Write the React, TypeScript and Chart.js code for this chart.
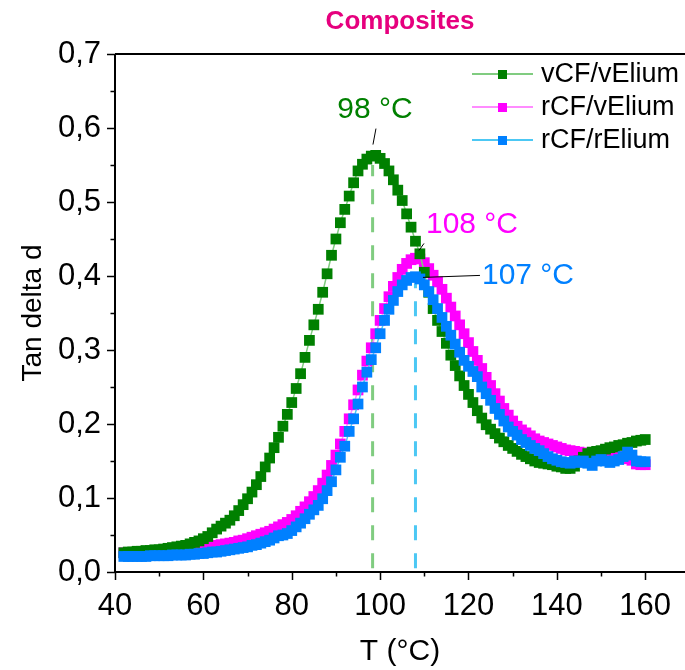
import React, { useEffect, useRef } from 'react';
import { Chart, registerables } from 'chart.js';

Chart.register(...registerables);

const FONT = "'Liberation Sans', Arial, Helvetica, sans-serif";

// Temperature (°C)
const temperatures = [
  42, 43, 44, 45, 46, 47, 48, 49, 50, 51,
  52, 53, 54, 55, 56, 57, 58, 59, 60, 61,
  62, 63, 64, 65, 66, 67, 68, 69, 70, 71,
  72, 73, 74, 75, 76, 77, 78, 79, 80, 81,
  82, 83, 84, 85, 86, 87, 88, 89, 90, 91,
  92, 93, 94, 95, 96, 97, 98, 99, 100, 101,
  102, 103, 104, 105, 106, 107, 108, 109, 110, 111,
  112, 113, 114, 115, 116, 117, 118, 119, 120, 121,
  122, 123, 124, 125, 126, 127, 128, 129, 130, 131,
  132, 133, 134, 135, 136, 137, 138, 139, 140, 141,
  142, 143, 144, 145, 146, 147, 148, 149, 150, 151,
  152, 153, 154, 155, 156, 157, 158, 159, 160,
];

// Tan delta, vCF/vElium
const vCFvElium = [
  0.026, 0.027, 0.027, 0.028, 0.028, 0.029, 0.029, 0.030, 0.030, 0.031,
  0.032, 0.033, 0.034, 0.035, 0.036, 0.038, 0.040, 0.042, 0.045, 0.048,
  0.053, 0.058, 0.062, 0.066, 0.070, 0.076, 0.083, 0.091, 0.099, 0.108,
  0.118, 0.129, 0.142, 0.154, 0.168, 0.182, 0.197, 0.213, 0.229, 0.248,
  0.268, 0.290, 0.313, 0.334, 0.355, 0.378, 0.403, 0.428, 0.450, 0.472,
  0.490, 0.508, 0.526, 0.542, 0.551, 0.558, 0.562, 0.563, 0.559, 0.552,
  0.542, 0.530, 0.516, 0.502, 0.484, 0.466, 0.447, 0.430, 0.405, 0.378,
  0.356, 0.340, 0.325, 0.309, 0.293, 0.279, 0.265, 0.252, 0.240, 0.229,
  0.218, 0.208, 0.199, 0.193, 0.187, 0.181, 0.176, 0.171, 0.167, 0.163,
  0.159, 0.156, 0.153, 0.150, 0.148, 0.147, 0.146, 0.145, 0.143, 0.142,
  0.140, 0.140, 0.143, 0.150, 0.155, 0.160, 0.162, 0.163, 0.164, 0.166,
  0.168, 0.169, 0.171, 0.172, 0.174, 0.175, 0.177, 0.178, 0.179,
];

// Tan delta, rCF/vElium
const rCFvElium = [
  0.026, 0.026, 0.026, 0.026, 0.027, 0.027, 0.027, 0.027, 0.028, 0.028,
  0.028, 0.029, 0.029, 0.030, 0.030, 0.031, 0.031, 0.032, 0.033, 0.034,
  0.035, 0.036, 0.037, 0.038, 0.039, 0.040, 0.042, 0.043, 0.045, 0.047,
  0.049, 0.051, 0.053, 0.055, 0.058, 0.061, 0.064, 0.067, 0.071, 0.076,
  0.082, 0.088, 0.095, 0.102, 0.110, 0.120, 0.131, 0.144, 0.158, 0.173,
  0.190, 0.207, 0.226, 0.246, 0.266, 0.285, 0.303, 0.322, 0.340, 0.356,
  0.372, 0.386, 0.398, 0.409, 0.417, 0.422, 0.424, 0.423, 0.418, 0.410,
  0.401, 0.392, 0.382, 0.370, 0.358, 0.346, 0.334, 0.322, 0.310, 0.298,
  0.286, 0.275, 0.263, 0.252, 0.241, 0.231, 0.221, 0.212, 0.204, 0.197,
  0.192, 0.188, 0.184, 0.180, 0.177, 0.175, 0.173, 0.171, 0.169, 0.167,
  0.165, 0.164, 0.163, 0.162, 0.161, 0.160, 0.159, 0.158, 0.157, 0.157,
  0.156, 0.156, 0.156, 0.155, 0.153, 0.151, 0.146, 0.145, 0.145,
];

// Tan delta, rCF/rElium
const rCFrElium = [
  0.021, 0.021, 0.021, 0.021, 0.021, 0.021, 0.022, 0.022, 0.022, 0.022,
  0.022, 0.023, 0.023, 0.023, 0.023, 0.024, 0.024, 0.025, 0.025, 0.026,
  0.027, 0.027, 0.028, 0.029, 0.030, 0.031, 0.032, 0.033, 0.034, 0.036,
  0.037, 0.039, 0.041, 0.043, 0.046, 0.049, 0.050, 0.052, 0.056, 0.061,
  0.066, 0.072, 0.078, 0.084, 0.090, 0.099, 0.110, 0.122, 0.138, 0.155,
  0.170, 0.190, 0.207, 0.227, 0.250, 0.270, 0.287, 0.303, 0.322, 0.340,
  0.355, 0.367, 0.379, 0.388, 0.394, 0.398, 0.399, 0.396, 0.388, 0.379,
  0.368, 0.356, 0.344, 0.332, 0.320, 0.308, 0.297, 0.286, 0.278, 0.271,
  0.264, 0.250, 0.241, 0.232, 0.221, 0.213, 0.204, 0.196, 0.190, 0.185,
  0.179, 0.175, 0.171, 0.167, 0.164, 0.160, 0.156, 0.153, 0.151, 0.149,
  0.148, 0.147, 0.150, 0.148, 0.150, 0.147, 0.144, 0.150, 0.152, 0.150,
  0.148, 0.150, 0.152, 0.156, 0.162, 0.158, 0.150, 0.149, 0.149,
];

const seriesNames = ['vCF/vElium', 'rCF/vElium', 'rCF/rElium'];
const markerColors = ['#008000', '#FF00FF', '#0080FF'];
const lineColors = ['#80CC80', '#FF8CFF', '#4CC8F4'];

const xTickValues = [40, 60, 80, 100, 120, 140, 160];
const xMinorValues = [50, 70, 90, 110, 130, 150];
const yTickValues = [0, 0.1, 0.2, 0.3, 0.4, 0.5, 0.6, 0.7];
const yMinorValues = [0.05, 0.15, 0.25, 0.35, 0.45, 0.55, 0.65];

// Peak markers (°C) and their labels
const peakLineTemps = [98.3, 108];
const peakLineTops = [0.55, 0.39];
const peakLabels = ['98 °C', '108 °C', '107 °C'];

const toPoints = (vals: number[]) => vals.map((v, i) => ({ x: temperatures[i], y: v }));

const overlayPlugin = {
  id: 'overlay',
  beforeDatasetsDraw(chart: any) {
    const { ctx, scales } = chart;
    const x = scales.x;
    const y = scales.y;
    ctx.save();
    ctx.lineWidth = 3;
    ctx.setLineDash([15, 13]);
    const dashColors = [lineColors[0], lineColors[2]];
    peakLineTemps.forEach((t, i) => {
      const px = x.getPixelForValue(t);
      ctx.strokeStyle = dashColors[i];
      ctx.beginPath();
      ctx.moveTo(px, y.getPixelForValue(0.005));
      ctx.lineTo(px, y.getPixelForValue(peakLineTops[i]));
      ctx.stroke();
    });
    ctx.restore();
  },
  afterDraw(chart: any) {
    const { ctx, chartArea, scales } = chart;
    const x = scales.x;
    const y = scales.y;
    const { left, right, top, bottom } = chartArea;
    ctx.save();
    ctx.setLineDash([]);

    // frame / axes
    ctx.strokeStyle = '#000';
    ctx.lineWidth = 2;
    ctx.beginPath();
    ctx.moveTo(left, top);
    ctx.lineTo(left, bottom);
    ctx.lineTo(right, bottom);
    ctx.moveTo(left, top);
    ctx.lineTo(right, top);
    ctx.stroke();

    // tick marks
    ctx.lineWidth = 1.5;
    ctx.beginPath();
    xTickValues.forEach((v) => {
      const p = Math.round(x.getPixelForValue(v)) + 0.5;
      ctx.moveTo(p, bottom);
      ctx.lineTo(p, bottom + 8);
    });
    xMinorValues.forEach((v) => {
      const p = Math.round(x.getPixelForValue(v)) + 0.5;
      ctx.moveTo(p, bottom);
      ctx.lineTo(p, bottom + 4.5);
    });
    yTickValues.forEach((v) => {
      const p = Math.round(y.getPixelForValue(v)) + 0.5;
      ctx.moveTo(left, p);
      ctx.lineTo(left - 8, p);
    });
    yMinorValues.forEach((v) => {
      const p = Math.round(y.getPixelForValue(v)) + 0.5;
      ctx.moveTo(left, p);
      ctx.lineTo(left - 4.5, p);
    });
    ctx.stroke();

    // annotations
    ctx.lineWidth = 1;
    ctx.strokeStyle = '#000';
    ctx.beginPath();
    ctx.moveTo(x.getPixelForValue(99.06), y.getPixelForValue(0.5992));
    ctx.lineTo(x.getPixelForValue(98.38), y.getPixelForValue(0.5776));
    ctx.moveTo(x.getPixelForValue(109.93), y.getPixelForValue(0.444));
    ctx.lineTo(x.getPixelForValue(108.79), y.getPixelForValue(0.4345));
    ctx.moveTo(x.getPixelForValue(109.7), y.getPixelForValue(0.3981));
    ctx.lineTo(x.getPixelForValue(122.6), y.getPixelForValue(0.4008));
    ctx.stroke();

    ctx.font = `30px ${FONT}`;
    ctx.textBaseline = 'middle';
    ctx.textAlign = 'center';
    ctx.fillStyle = markerColors[0];
    ctx.fillText(peakLabels[0], x.getPixelForValue(98.84), y.getPixelForValue(0.6248));
    ctx.textAlign = 'left';
    ctx.fillStyle = markerColors[1];
    ctx.fillText(peakLabels[1], x.getPixelForValue(110.38), y.getPixelForValue(0.4696));
    ctx.fillStyle = markerColors[2];
    ctx.fillText(peakLabels[2], x.getPixelForValue(123.05), y.getPixelForValue(0.4008));

    // legend
    const rows = [74, 107, 140];
    ctx.font = `27px ${FONT}`;
    rows.forEach((ry, i) => {
      ctx.strokeStyle = lineColors[i];
      ctx.lineWidth = 2;
      ctx.beginPath();
      ctx.moveTo(472, ry);
      ctx.lineTo(533, ry);
      ctx.stroke();
      ctx.fillStyle = markerColors[i];
      ctx.fillRect(498, ry - 4, 9, 9);
      ctx.fillStyle = '#000';
      ctx.textAlign = 'left';
      ctx.fillText(seriesNames[i], 541, ry + 1);
    });

    // title
    ctx.font = `bold 26px ${FONT}`;
    ctx.fillStyle = '#E6007E';
    ctx.textAlign = 'center';
    ctx.fillText('Composites', 400, 22);

    ctx.restore();
  },
};

export default function App() {
  const canvasRef = useRef<HTMLCanvasElement | null>(null);

  useEffect(() => {
    if (!canvasRef.current) return;
    const datasets = [
      { idx: 2, data: rCFrElium },
      { idx: 0, data: vCFvElium },
      { idx: 1, data: rCFvElium },
    ].map(({ idx, data }) => ({
      label: seriesNames[idx],
      data: toPoints(data),
      showLine: true,
      borderColor: lineColors[idx],
      borderWidth: 1.5,
      pointStyle: 'rect' as const,
      pointRadius: 7.6,
      pointBorderWidth: 0,
      pointBackgroundColor: markerColors[idx],
      pointBorderColor: markerColors[idx],
    }));

    const chart = new Chart(canvasRef.current, {
      type: 'scatter',
      data: { datasets },
      options: {
        animation: false,
        responsive: false,
        maintainAspectRatio: false,
        devicePixelRatio: 1,
        layout: { autoPadding: false, padding: { top: 54, left: 0, right: 0, bottom: 0 } },
        plugins: {
          legend: { display: false },
          tooltip: { enabled: false },
          title: { display: false },
        },
        scales: {
          x: {
            type: 'linear',
            min: 40,
            max: 169,
            afterBuildTicks: (s: any) => {
              s.ticks = xTickValues.map((value) => ({ value }));
            },
            afterFit: (s: any) => {
              s.height = 98;
              s.paddingLeft = 0;
              s.paddingRight = 0;
            },
            grid: { display: false, drawTicks: false },
            border: { display: false },
            ticks: {
              autoSkip: false,
              maxRotation: 0,
              padding: 16,
              color: '#000',
              font: { family: FONT, size: 31 },
            },
            title: {
              display: true,
              text: 'T (°C)',
              color: '#000',
              font: { family: FONT, size: 30 },
              padding: { top: 0, bottom: 0 },
            },
          },
          y: {
            type: 'linear',
            min: 0,
            max: 0.7,
            afterBuildTicks: (s: any) => {
              s.ticks = yTickValues.map((value) => ({ value }));
            },
            afterFit: (s: any) => {
              s.width = 115;
              s.paddingTop = 0;
              s.paddingBottom = 0;
            },
            grid: { display: false, drawTicks: false },
            border: { display: false },
            ticks: {
              autoSkip: false,
              padding: 14,
              color: '#000',
              font: { family: FONT, size: 31 },
              callback: (v: any) => Number(v).toFixed(1).replace('.', ','),
            },
            title: {
              display: true,
              text: 'Tan delta d',
              color: '#000',
              font: { family: FONT, size: 28 },
              padding: { top: 16, bottom: 0 },
            },
          },
        },
      },
      plugins: [overlayPlugin],
    });
    return () => chart.destroy();
  }, []);

  return (
    <div style={{ position: 'absolute', left: 0, top: 0, width: 685, height: 670 }}>
      <canvas ref={canvasRef} width={685} height={670} style={{ display: 'block', width: 685, height: 670 }} />
    </div>
  );
}
